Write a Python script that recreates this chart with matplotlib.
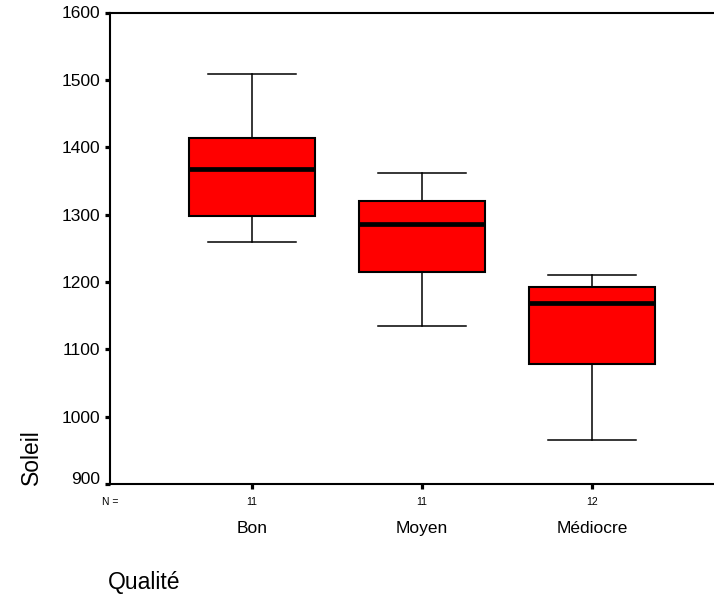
import numpy as np
import matplotlib
matplotlib.use('Agg')
import matplotlib.pyplot as plt
import matplotlib.transforms as mtransforms

# values
categories = ['Bon', 'Moyen', 'Médiocre']
counts = [11, 11, 12]
whisker_low = [1259, 1135, 966]
q1 = [1298, 1215, 1078]
median = [1367, 1286, 1169]
q3 = [1413, 1320, 1193]
whisker_high = [1508, 1362, 1210]

y_ticks = [900, 1000, 1100, 1200, 1300, 1400, 1500, 1600]

plt.rcParams['font.family'] = ['Liberation Sans', 'DejaVu Sans']


def DoPlot():
    fig = plt.figure(figsize = (7.14, 5.96), dpi = 100)
    ax = fig.add_axes([110 / 714, 112 / 596, 604 / 714, 471.5 / 596])

    stats = []
    for i in range(len(categories)):
        stats.append({'whislo': whisker_low[i], 'q1': q1[i], 'med': median[i],
                      'q3': q3[i], 'whishi': whisker_high[i], 'fliers': []})

    pos = np.arange(1, len(categories) + 1)
    ax.bxp(stats, positions = pos, widths = 0.74, capwidths = 0.52,
           showfliers = False, patch_artist = True,
           boxprops = dict(facecolor = '#ff0000', edgecolor = 'black', linewidth = 1.5),
           medianprops = dict(color = 'black', linewidth = 3.4, solid_capstyle = 'butt'),
           whiskerprops = dict(color = 'black', linewidth = 1.1),
           capprops = dict(color = 'black', linewidth = 1.1))

    x_left = 1 - 142 / 170
    x_right = 3 + 122 / 170
    ax.set_xlim(x_left, x_right)
    ax.set_ylim(900, 1600)

    ax.spines['right'].set_visible(False)
    for s in ['left', 'top', 'bottom']:
        ax.spines[s].set_linewidth(1.5)

    ax.set_yticks(y_ticks)
    ax.set_yticklabels([str(v) for v in y_ticks])
    ax.tick_params(axis = 'y', direction = 'out', length = 3.3, width = 2.3,
                   pad = 3.5, labelsize = 12.5)
    ax.get_yticklabels()[0].set_va('baseline')

    ax.set_xticks(pos)
    ax.set_xticklabels([])
    ax.tick_params(axis = 'x', direction = 'out', length = 3.3, width = 2.3)

    trans = mtransforms.blended_transform_factory(ax.transData, fig.transFigure)
    ax.text(x_left, 91 / 596, 'N =', transform = trans, ha = 'center',
            va = 'baseline', fontsize = 7.5)
    for i in range(len(categories)):
        ax.text(pos[i], 91 / 596, str(counts[i]), transform = trans,
                ha = 'center', va = 'baseline', fontsize = 7.5)
        ax.text(pos[i], 63 / 596, categories[i], transform = trans,
                ha = 'center', va = 'baseline', fontsize = 12.5)

    fig.text(31 / 714, 111 / 596, 'Soleil', rotation = 90, ha = 'center',
             va = 'bottom', fontsize = 16.5)
    fig.text(108 / 714, 7 / 596, 'Qualité', ha = 'left', va = 'baseline',
             fontsize = 16.5)

    fig.savefig('out.png', dpi = 100)


def main():
    DoPlot()

main()
